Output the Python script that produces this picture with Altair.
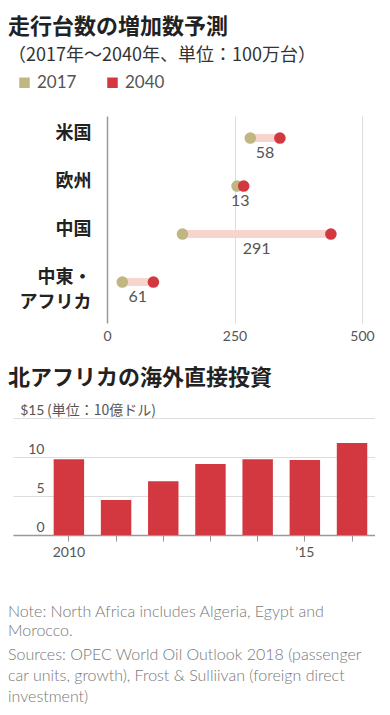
import altair as alt
import pandas as pd

# ---- data: top chart (million vehicles) ----
regions = ["米国", "欧州", "中国", "中東・アフリカ"]
v2017 = [281, 255, 148, 30]
v2040 = [339, 268, 439, 91]
growth = [58, 13, 291, 61]
series = ["2017", "2040"]

# ---- data: bottom chart (FDI, $ billion) ----
years = ["2010", "2011", "2012", "2013", "2014", "2015", "2016"]
fdi = [9.7, 4.5, 6.9, 9.1, 9.7, 9.6, 11.8]
year_labels = ["2010", "", "", "", "", "’15", ""]

CJK = "Noto Sans CJK JP"
LAT = "Lato"
RED = "#d3373f"
OLIVE = "#c0b681"
PINK = "#f8d5cc"

df = pd.DataFrame({"region": regions, "y2017": v2017, "y2040": v2040, "growth": growth})
long = pd.DataFrame({
    "region": regions * 2,
    "series": [series[0]] * len(regions) + [series[1]] * len(regions),
    "value": v2017 + v2040,
})

yenc = alt.Y(
    "region:N", sort=regions,
    scale=alt.Scale(type="point", padding=0.656, align=0.35),
    axis=alt.Axis(
        title=None, domain=False, ticks=False, tickSize=0, grid=False,
        labelFont=CJK, labelFontWeight="bold", labelFontSize=18, labelColor="#222",
        labelAlign="right", labelPadding=-78, labelOffset=-5, labelLimit=200,
        labelLineHeight=25,
        labelExpr="datum.value == '中東・アフリカ' ? ['中東・', 'アフリカ'] : datum.label",
    ),
)
xscale = alt.Scale(domain=[0, 500], range=[94, 349])
xaxis = alt.Axis(
    values=[0, 250, 500], title=None, domain=False, ticks=False, grid=True,
    gridColor={"condition": {"test": "datum.value === 0", "value": "#9a9a9a"}, "value": "#dddddd"},
    gridWidth={"condition": {"test": "datum.value === 0", "value": 1.5}, "value": 1},
    labelFont=LAT, labelFontSize=14, labelColor="#555", labelPadding=6, labelFlush=False,
)

base_top = alt.Chart(df)
conn = base_top.mark_rule(strokeWidth=8, color=PINK).encode(
    x=alt.X("y2017:Q", scale=xscale, axis=xaxis),
    x2="y2040:Q",
    y=yenc,
)
dots = alt.Chart(long).mark_circle(size=135, opacity=1).encode(
    x=alt.X("value:Q", scale=xscale),
    y=alt.Y("region:N", sort=regions),
    color=alt.Color(
        "series:N",
        scale=alt.Scale(domain=series, range=[OLIVE, RED]),
        legend=alt.Legend(
            orient="none", legendX=3, legendY=-42, direction="horizontal",
            title=None, symbolType="square", symbolSize=110, symbolStrokeWidth=0,
            labelFont=LAT, labelFontSize=17, labelColor="#555", labelOffset=4,
            columnPadding=27, padding=0,
        ),
    ),
)
labels = base_top.transform_calculate(mid="(datum.y2017 + datum.y2040) / 2").mark_text(
    dy=15, font=LAT, fontSize=16, color="#555"
).encode(
    x=alt.X("mid:Q", scale=xscale),
    y=alt.Y("region:N", sort=regions),
    text="growth:Q",
)

top = alt.layer(conn, dots, labels).properties(
    width=362, height=207,
    title=alt.TitleParams(
        text="走行台数の増加数予測", subtitle="（2017年～2040年、単位：100万台）",
        anchor="start", frame="group", dx=-5, offset=50,
        font=CJK, fontSize=22, fontWeight="bold", color="#222",
        subtitleFont=CJK, subtitleFontSize=18, subtitleColor="#333", subtitlePadding=8,
    ),
)

# ---- bottom chart ----
df2 = pd.DataFrame({"year": years, "fdi": fdi, "lab": year_labels})
lab_expr = " : ".join(
    [f"datum.value == '{y}' ? '{l}'" for y, l in zip(years, year_labels)]
) + " : ''"

yaxis_b = alt.Axis(
    values=[0, 5, 10, 15], title=None, domain=False, ticks=False, tickSize=0,
    grid=True, gridColor="#dddddd", labelOverlap=False,
    labelAlign="right", labelBaseline="bottom",
    labelPadding=-31, labelOffset=-1,
    labelFont=LAT, labelFontSize=14, labelColor="#555",
    labelExpr="datum.value == 15 ? '$15' : datum.label",
)
yscale_b = alt.Scale(domain=[0, 15])

bars = alt.Chart(df2).mark_bar(color=RED).encode(
    x=alt.X(
        "year:N", sort=years,
        scale=alt.Scale(paddingInner=0.355, paddingOuter=0.513, align=0.84),
        axis=alt.Axis(
            title=None, grid=False, labelAngle=0, labelExpr=lab_expr,
            domainColor="#999", domainWidth=1.5, tickColor="#999", tickSize=6,
            labelFont=LAT, labelFontSize=14, labelColor="#555", labelPadding=4,
        ),
    ),
    y=alt.Y("fdi:Q", scale=yscale_b, axis=yaxis_b),
)
unit = alt.Chart(pd.DataFrame({"t": ["(単位：10億ドル)"]})).mark_text(
    align="left", baseline="bottom", dy=0, font=CJK, fontSize=14, color="#555"
).encode(x=alt.value(34), y=alt.Y(datum=15, scale=yscale_b, axis=yaxis_b), text="t:N")

bottom = alt.layer(bars, unit).properties(
    width=362, height=117,
    title=alt.TitleParams(
        text="北アフリカの海外直接投資", anchor="start", frame="group", dx=-5, offset=13,
        font=CJK, fontSize=22, fontWeight="bold", color="#222",
    ),
)

chart = alt.vconcat(top, bottom, spacing=24).properties(
    title=alt.TitleParams(
        text=["Note: North Africa includes Algeria, Egypt and", "Morocco."],
        subtitle=["Sources: OPEC World Oil Outlook 2018 (passenger",
                  "car units, growth), Frost & Sulliivan (foreign direct",
                  "investment)"],
        orient="bottom", anchor="start", offset=45,
        font=LAT, fontSize=16, fontWeight=300, color="#777", lineHeight=19,
        subtitleFont=LAT, subtitleFontSize=16, subtitleFontWeight=300,
        subtitleColor="#777", subtitleLineHeight=21, subtitlePadding=8,
    )
).configure(padding={"left": 0, "top": 8, "right": 0, "bottom": 0}).configure_view(stroke=None)

chart.save("out.html", embed_options={"renderer": "svg", "actions": False})
